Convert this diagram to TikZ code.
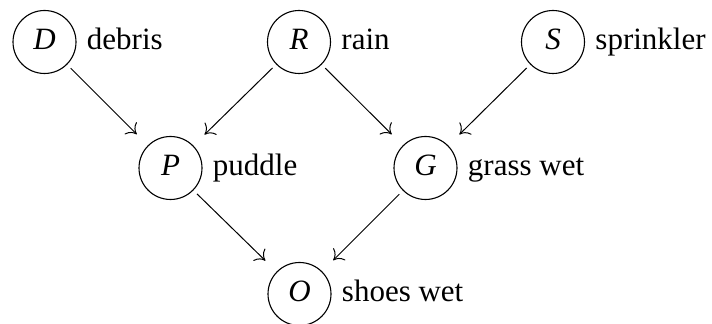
\documentclass[tikz,border=0pt]{standalone}
\usepackage{fontspec}
\setmainfont{Liberation Serif}
\newfontfamily\labfont{Liberation Serif}
\usetikzlibrary{arrows.meta}
\begin{document}
\begin{tikzpicture}[x=0.5pt,y=-0.5pt,
  var/.style={circle,draw,line width=0.55pt,minimum size=31.5pt,inner sep=0pt,
    font=\labfont\fontsize{15.5}{18}\selectfont\itshape,text height=10.3pt,text depth=2.3pt},
  lab/.style={anchor=base west,inner sep=0pt,font=\labfont\fontsize{15.5}{18}\selectfont},
  dep/.style={-{To[length=4.5pt,width=8.5pt]},line width=0.5pt,
    shorten <=2.5pt,shorten >=7.8pt}]
\useasboundingbox (0,0) rectangle (712,324);

% variables
\node[var] (D) at (44.5,42) {D};
\node[var] (R) at (299,42) {R};
\node[var] (S) at (553,42) {S};
\node[var] (P) at (170.5,168) {P};
\node[var] (G) at (425.5,168) {G};
\node[var] (O) at (299.5,294) {O};

% names beside the variables
\foreach \n/\t in {D/debris,R/rain,S/sprinkler,P/puddle,G/grass wet,O/shoes wet}
  \node[lab] (\n l) at ([xshift=5pt,yshift=-4pt]\n.east) {\t};

% dependencies
\draw[dep] (D) -- (P);
\draw[dep] (R) -- (P);
\draw[dep] (R) -- (G);
\draw[dep] (S) -- (G);
\draw[dep] (P) -- (O);
\draw[dep] (G) -- (O);
\end{tikzpicture}
\end{document}
